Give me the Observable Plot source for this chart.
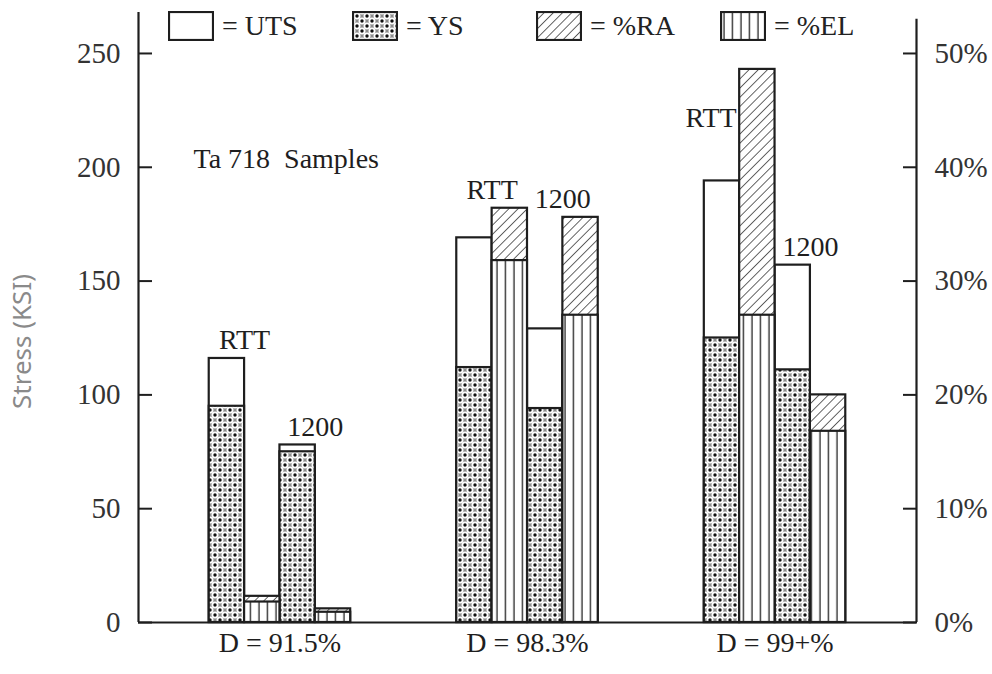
<!DOCTYPE html>
<html><head><meta charset="utf-8">
<script src="https://cdn.jsdelivr.net/npm/d3@7"></script>
<script src="https://cdn.jsdelivr.net/npm/@observablehq/plot@0.6"></script>
<style>
body{margin:0;background:#fff;}
#wrap{position:relative;width:992px;height:674px;}
.lg{position:absolute;top:11px;height:30px;display:flex;align-items:center;font-family:"Liberation Serif",serif;font-size:28px;color:#222;white-space:nowrap;}
.lg svg{margin-right:8px;}
</style></head><body>
<svg width="0" height="0" style="position:absolute">
<defs>
<pattern id="pYS" patternUnits="userSpaceOnUse" width="10" height="10">
<rect width="10" height="10" fill="#8c8c8c"/>
<circle cx="0" cy="0" r="3.5" fill="#fdfdfd"/><circle cx="10" cy="0" r="3.5" fill="#fdfdfd"/>
<circle cx="0" cy="10" r="3.5" fill="#fdfdfd"/><circle cx="10" cy="10" r="3.5" fill="#fdfdfd"/>
<circle cx="5" cy="5" r="3.5" fill="#fdfdfd"/>
<circle cx="0" cy="0" r="1.7" fill="#111"/><circle cx="10" cy="0" r="1.7" fill="#111"/>
<circle cx="0" cy="10" r="1.7" fill="#111"/><circle cx="10" cy="10" r="1.7" fill="#111"/>
<circle cx="5" cy="5" r="1.7" fill="#111"/>
</pattern>
<pattern id="pRA" patternUnits="userSpaceOnUse" width="6.5" height="6.5" patternTransform="rotate(45)">
<rect width="6.5" height="6.5" fill="#fff"/>
<line x1="0" y1="0" x2="0" y2="6.5" stroke="#222" stroke-width="1.4"/>
</pattern>
<pattern id="pEL" patternUnits="userSpaceOnUse" width="8.5" height="10">
<rect width="8.5" height="10" fill="#fff"/>
<line x1="4" y1="0" x2="4" y2="10" stroke="#222" stroke-width="1.3"/>
</pattern>
</defs></svg>
<div id="wrap"><div id="chart"></div><div id="legend"></div></div>
<script>
// ---- data ----
const groups = ["D = 91.5%", "D = 98.3%", "D = 99+%"];
const conditions = ["RTT", "1200"];
// stress (KSI), ordered group x condition
const uts = [116, 78, 169, 129, 194, 157];
const ys  = [95, 75, 112, 94, 125, 111];
// percent
const ra  = [2.3, 1.2, 36.4, 35.6, 48.6, 20.0];
const el  = [1.8, 0.9, 31.8, 27.0, 27.0, 16.8];
const stressTicks = [0, 50, 100, 150, 200, 250];
const legendItems = [["pUTS", "= UTS"], ["pYS", "= YS"], ["pRA", "= %RA"], ["pEL", "= %EL"]];
const sampleNote = "Ta 718\u00a0 Samples";
const yLabel = "Stress (KSI)";

// ---- layout helpers ----
const PCT = 5;             // 1% on right axis = 5 KSI on left axis
const outer = 2, inner = 3, perGroup = 4;
const nSlots = outer * 2 + groups.length * perGroup + (groups.length - 1) * inner;
const ink = "#1e1e1e";

const bars = [];
groups.forEach((g, gi) => conditions.forEach((c, ci) => {
  const i = gi * conditions.length + ci;
  const s = outer + gi * (perGroup + inner) + ci * 2;
  bars.push({group: g, cond: c, s, uts: uts[i], ys: ys[i], ra: ra[i], el: el[i]});
}));
const groupRows = groups.map((g, gi) => ({g, c: outer + gi * (perGroup + inner) + perGroup / 2}));
const labelRows = bars.map(d => {
  const top = Math.max(d.uts, d.ra * PCT);
  const side = top > 220;
  return {text: d.cond, x: d.s + 1, y: side ? d.uts + 20 : top, anchor: side ? "end" : "middle"};
});

const chart = Plot.plot({
  width: 992, height: 674,
  marginLeft: 138, marginRight: 76, marginTop: 12, marginBottom: 52,
  x: {domain: [0, nSlots], axis: null},
  y: {domain: [0, 268], axis: null},
  style: {fontFamily: "'Liberation Serif', serif", fontSize: "28px", background: "white", color: ink},
  marks: [
    Plot.rect(bars, {x1: d => d.s, x2: d => d.s + 1, y1: 0, y2: "uts", fill: "white", stroke: ink, strokeWidth: 2.2}),
    Plot.rect(bars, {x1: d => d.s, x2: d => d.s + 1, y1: 0, y2: "ys", fill: "url(#pYS)", stroke: ink, strokeWidth: 2.2}),
    Plot.rect(bars, {x1: d => d.s + 1, x2: d => d.s + 2, y1: 0, y2: d => d.ra * PCT, fill: "url(#pRA)", stroke: ink, strokeWidth: 2.2}),
    Plot.rect(bars, {x1: d => d.s + 1, x2: d => d.s + 2, y1: 0, y2: d => d.el * PCT, fill: "url(#pEL)", stroke: ink, strokeWidth: 2.2}),
    Plot.ruleY([0], {stroke: ink, strokeWidth: 2.2}),
    Plot.ruleX([0], {y1: 0, y2: 268, stroke: ink, strokeWidth: 2.2}),
    Plot.ruleX([nSlots], {y1: 0, y2: 265, stroke: ink, strokeWidth: 2.2}),
    Plot.axisY(stressTicks, {anchor: "left", tickSize: -14, tickPadding: 32, strokeWidth: 2, fontSize: 29, fill: "#333", label: null}),
    Plot.axisY(stressTicks, {anchor: "right", tickSize: -14, tickPadding: 32, strokeWidth: 2, fontSize: 29, fill: "#333", label: null, tickFormat: d => d / PCT + "%"}),
    Plot.text(labelRows.filter(d => d.anchor === "middle"), {x: "x", y: "y", text: "text", textAnchor: "middle", lineAnchor: "bottom", dy: -9, fontSize: 28, fill: ink}),
    Plot.text(labelRows.filter(d => d.anchor === "end"), {x: "x", y: "y", text: "text", textAnchor: "end", lineAnchor: "bottom", dx: -3, dy: -8, fontSize: 28, fill: ink}),
    Plot.text(groupRows, {x: "c", y: 0, text: "g", textAnchor: "middle", lineAnchor: "top", dy: 10, fontSize: 28, fill: ink}),
    Plot.text([sampleNote], {text: d => d, frameAnchor: "top-left", textAnchor: "start", lineAnchor: "top", dx: 55, dy: 136, fontSize: 28, fill: ink}),
    Plot.text([yLabel], {text: d => d, frameAnchor: "left", textAnchor: "middle", rotate: -90, dx: -116, dy: 24, fontFamily: "'Noto Sans', sans-serif", fontSize: 26, fill: "#8a8a8a"})
  ]
});
document.getElementById("chart").appendChild(chart);

// ---- legend (HTML, overlaid at top) ----
const lg = document.getElementById("legend");
legendItems.forEach(([pid, txt], i) => {
  const el = document.createElement("div");
  el.className = "lg";
  el.style.left = (168 + i * 184) + "px";
  const fill = pid === "pUTS" ? "#fff" : `url(#${pid})`;
  el.innerHTML = `<svg width="46" height="30"><rect x="1" y="1" width="44" height="28" fill="${fill}" stroke="${ink}" stroke-width="2.2"/></svg><span>${txt}</span>`;
  lg.appendChild(el);
});
</script>
</body></html>
